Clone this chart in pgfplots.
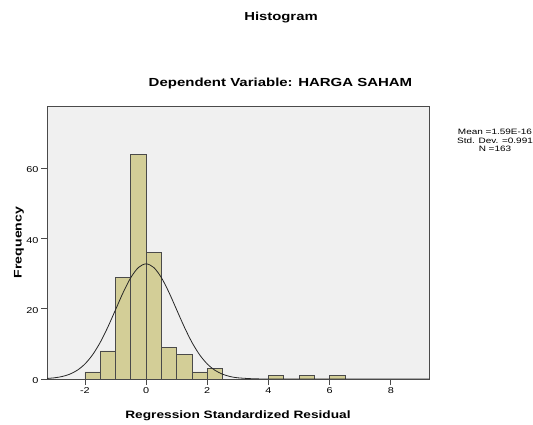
\documentclass[border=0pt]{standalone}
\usepackage{fontspec}
\setmainfont{Liberation Sans}[FakeStretch=1.28]
\usepackage{pgfplots}
\pgfplotsset{compat=1.18}
\definecolor{barfill}{HTML}{D3CE97}
\definecolor{bgfill}{HTML}{F0F0F0}
\definecolor{framec}{HTML}{4A4A4A}
\begin{document}
\begin{tikzpicture}[x=1pt,y=1pt]
\useasboundingbox (0,0) rectangle (533,425);
\begin{axis}[
  at={(47pt,46pt)}, anchor=south west, scale only axis,
  width=382pt, height=273pt,
  xmin=-3.24, xmax=9.25, ymin=0, ymax=77.8,
  axis background/.style={fill=bgfill},
  axis line style={framec, line width=0.8pt},
  xtick={-2,0,2,4,6,8}, ytick={0,20,40,60},
  tick align=outside, major tick length=6pt,
  tick style={framec, line width=0.8pt},
  tick pos=left,
  /pgf/number format/assume math mode=true,
  ticklabel style={font=\fontsize{8.5}{9}\selectfont},
  yticklabel style={yshift=-1.5pt, xshift=1pt},
  xticklabel style={yshift=1pt},
]
\addplot[ybar interval, fill=barfill, draw=framec, line width=0.75pt] coordinates {
  (-2,2) (-1.5,8) (-1,29) (-0.5,64) (0,36) (0.5,9) (1,7) (1.5,2) (2,3) (2.5,0)};
\addplot[ybar interval, fill=barfill, draw=framec, line width=0.75pt] coordinates {
  (4,1) (4.5,0) (5,1) (5.5,0) (6,1) (6.5,0)};
\addplot[smooth, black!85, line width=0.8pt] coordinates {
  (-3.24,0.157) (-3,0.336) (-2.75,0.698) (-2.5,1.36) (-2.25,2.49) (-2,4.28)
  (-1.75,6.90) (-1.5,10.43) (-1.25,14.81) (-1,19.72) (-0.75,24.64) (-0.5,28.89)
  (-0.25,31.78) (0,32.81) (0.25,31.78) (0.5,28.89) (0.75,24.64) (1,19.72)
  (1.25,14.81) (1.5,10.43) (1.75,6.90) (2,4.28) (2.25,2.49) (2.5,1.36)
  (2.75,0.698) (3,0.336) (3.5,0.064) (4,0.01) (5,0) (9.25,0)};
\end{axis}
\node[anchor=base, font=\fontsize{11.6}{13}\selectfont\bfseries] at (281,404.3) {Histogram};
\node[anchor=base, font=\fontsize{11.7}{13}\selectfont\bfseries] at (280.5,338.3) {Dependent Variable: HARGA SAHAM};
\node[rotate=90, font=\fontsize{11}{13}\selectfont\bfseries] at (19,182.5) {Frequency};
\node[anchor=base, font=\fontsize{10.7}{13}\selectfont\bfseries] at (238,6.7) {Regression Standardized Residual};
\node[anchor=base, font=\fontsize{7.8}{9}\selectfont] at (495,290) {Mean =1.59E-16};
\node[anchor=base, font=\fontsize{7.8}{9}\selectfont] at (495,281.5) {Std. Dev. =0.991};
\node[anchor=base, font=\fontsize{7.8}{9}\selectfont] at (495,273) {N =163};
\end{tikzpicture}
\end{document}
